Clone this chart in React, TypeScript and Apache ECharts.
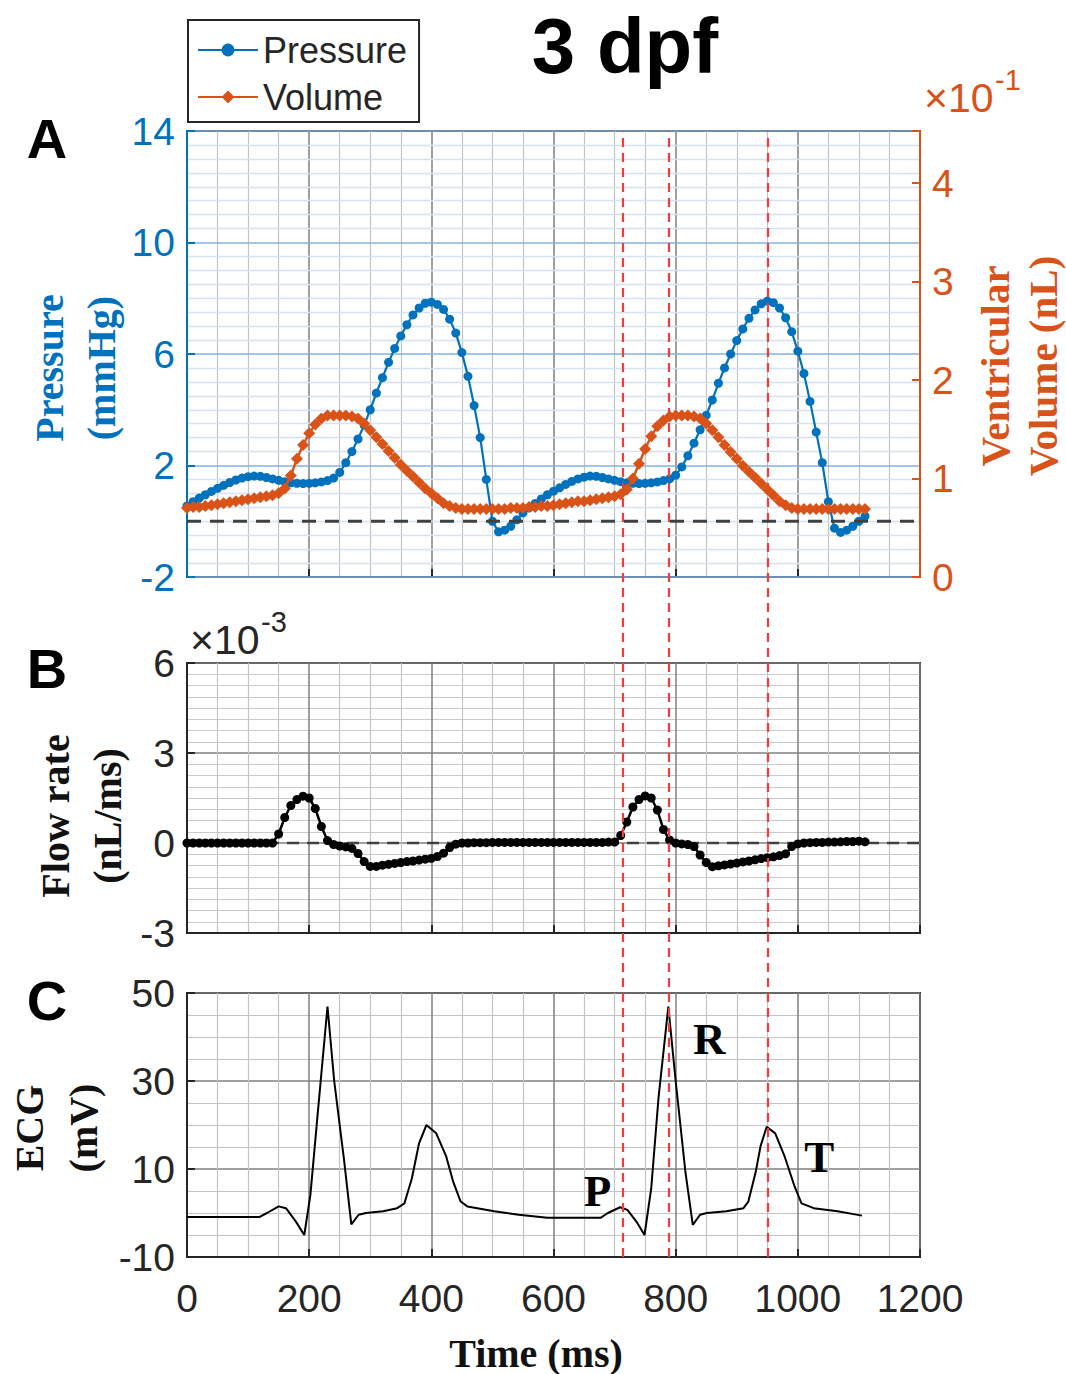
import React, { useEffect, useRef } from 'react';
import * as echarts from 'echarts';

// ---------- data ----------
// sampling grid of the pressure / volume / flow traces (ms)
const timeMs = Array.from({ length: 112 }, (_, i) => i * 10);

// ventricular pressure (mmHg)
const pressure = [
  0.55, 0.7, 0.83, 0.95, 1.07, 1.18, 1.29, 1.39, 1.48, 1.55,
  1.6, 1.62, 1.61, 1.57, 1.52, 1.47, 1.42, 1.38, 1.36, 1.35,
  1.36, 1.38, 1.41, 1.46, 1.55, 1.75, 2.1, 2.5, 2.95, 3.45,
  4.0, 4.6, 5.15, 5.7, 6.2, 6.65, 7.05, 7.4, 7.65, 7.82,
  7.86, 7.78, 7.6, 7.25, 6.75, 6.05, 5.2, 4.15, 3.0, 1.5,
  0.0, -0.38, -0.32, -0.18, 0.05, 0.3, 0.48, 0.64, 0.8, 0.95,
  1.08, 1.2, 1.32, 1.43, 1.52, 1.58, 1.62, 1.61, 1.57, 1.52,
  1.47, 1.42, 1.38, 1.36, 1.35, 1.36, 1.38, 1.41, 1.46, 1.52,
  1.65, 1.95, 2.35, 2.8, 3.28, 3.8, 4.35, 4.95, 5.5, 6.0,
  6.48, 6.9, 7.28, 7.58, 7.8, 7.9, 7.84, 7.65, 7.3, 6.8,
  6.1, 5.3, 4.3, 3.2, 2.1, 0.7, -0.25, -0.4, -0.32, -0.18,
  0.0, 0.18,
];

// ventricular volume (x10^-1 nL)
const volume = [
  0.7, 0.71, 0.71, 0.72, 0.73, 0.74, 0.75, 0.76, 0.77, 0.78,
  0.79, 0.8, 0.81, 0.82, 0.83, 0.85, 0.9, 1.03, 1.2, 1.34,
  1.46, 1.55, 1.61, 1.64, 1.64, 1.64, 1.64, 1.63, 1.61, 1.56,
  1.49, 1.42, 1.35, 1.28, 1.21, 1.14, 1.08, 1.02, 0.96, 0.9,
  0.85, 0.8, 0.75, 0.72, 0.7, 0.69, 0.69, 0.69, 0.69, 0.69,
  0.69, 0.69, 0.69, 0.7, 0.7, 0.7, 0.71, 0.71, 0.72, 0.72,
  0.73, 0.74, 0.75, 0.76, 0.77, 0.77, 0.78, 0.79, 0.8, 0.81,
  0.82, 0.84, 0.89, 1.0, 1.15, 1.3, 1.43, 1.53, 1.59, 1.63,
  1.64, 1.64, 1.64, 1.63, 1.61, 1.56, 1.49, 1.42, 1.34, 1.27,
  1.2, 1.13, 1.07, 1.01, 0.95, 0.89, 0.83, 0.77, 0.73, 0.7,
  0.69, 0.69, 0.69, 0.69, 0.69, 0.69, 0.69, 0.69, 0.69, 0.69,
  0.69, 0.69,
];

// flow rate (x10^-3 nL/ms)
const flowRate = [
  0, 0, 0, 0, 0, 0, 0, 0, 0, 0,
  0, 0, 0, 0, 0, 0.3, 0.85, 1.25, 1.45, 1.56,
  1.5, 1.15, 0.55, 0.08, -0.05, -0.1, -0.13, -0.18, -0.35, -0.62,
  -0.78, -0.78, -0.74, -0.71, -0.68, -0.65, -0.62, -0.6, -0.57, -0.54,
  -0.51, -0.45, -0.34, -0.15, -0.04, 0, 0, 0.01, 0.01, 0.01,
  0.02, 0.02, 0.02, 0.02, 0.02, 0.02, 0.02, 0.02, 0.02, 0.02,
  0.02, 0.02, 0.02, 0.02, 0.02, 0.02, 0.02, 0.02, 0.02, 0.03,
  0.03, 0.25, 0.7, 1.2, 1.45, 1.57, 1.5, 1.1, 0.45, 0.1,
  0, -0.03, -0.05, -0.12, -0.4, -0.65, -0.79, -0.76, -0.73, -0.7,
  -0.67, -0.63, -0.6, -0.56, -0.52, -0.49, -0.46, -0.42, -0.36, -0.12,
  -0.03, 0, 0.01, 0.02, 0.02, 0.03, 0.03, 0.04, 0.05, 0.05,
  0.06, 0.04,
];

// ECG (ms, mV)
const ecgTime = [
  0, 119, 131, 150, 162, 178, 192, 202, 214, 230, 241, 257, 269, 281, 293, 321,
  344, 356, 368, 380, 392, 408, 424, 436, 448, 459, 503, 543, 590, 677, 689, 709,
  721, 737, 749, 760, 772, 788, 800, 816, 828, 840, 851, 883, 911, 919, 931, 939,
  949, 963, 978, 994, 1006, 1026, 1065, 1105,
];
const ecgValue = [
  -0.9, -0.9, 0.0, 1.5, 1.1, -1.9, -5.0, 4.1, 22.6, 46.9, 30.0, 12.2, -2.6, -0.4, 0.0, 0.4,
  1.1, 2.2, 7.8, 15.9, 20.0, 18.1, 13.0, 7.0, 2.6, 1.5, 0.4, -0.4, -1.1, -1.1, 0.0, 1.3,
  0.7, -2.2, -5.0, 5.6, 26.3, 46.9, 30.0, 9.3, -2.7, -0.4, 0.0, 0.4, 1.1, 2.6, 9.3, 15.2,
  19.6, 18.1, 13.0, 6.3, 2.2, 1.1, 0.4, -0.6,
];

// ECG wave annotations
const waveLabels = ['P', 'R', 'T'];
const waveTime = [672, 855, 1035];
const waveValue = [4.9, 39.6, 12.7];

// event markers (ms)
const eventTimes = [714, 788, 950];

// axis ticks
const xTicks = { min: 0, max: 1200, step: 200 };
const pressureTicks = { min: -2, max: 14, step: 4 };
const volumeTicks = { min: 0, max: 4.53, step: 1 };
const flowTicks = { min: -3, max: 6, step: 3 };
const ecgTicks = { min: -10, max: 50, step: 20 };

// ---------- style ----------
const BLUE = '#0072BD';
const ORANGE = '#D95319';
const INK = '#262626';
const RED = '#f23b3b';
const SANS = '"Liberation Sans", Arial, Helvetica, sans-serif';
const SERIF = '"Liberation Serif", "Times New Roman", serif';
const GL = 187;
const GW = 733;

function xAxisFor(gridIndex: number, showLabels: boolean) {
  return {
    type: 'value',
    gridIndex,
    min: xTicks.min,
    max: xTicks.max,
    interval: xTicks.step,
    z: 3,
    axisLine: { show: true, onZero: false, lineStyle: { color: INK, width: 2 } },
    axisTick: { show: true, inside: true, length: 8, lineStyle: { color: INK, width: 2 } },
    axisLabel: {
      show: showLabels,
      margin: 22,
      fontSize: 39,
      color: INK,
      fontFamily: SANS,
      formatter: (v: number) => String(v),
    },
    splitLine: { show: true, lineStyle: { color: '#7f7f7f', width: 1.5 } },
    minorTick: { show: false, splitNumber: 4 },
    minorSplitLine: { show: true, lineStyle: { color: '#c4c4c4', width: 1.2 } },
  };
}

function txt(text: string, x: number, y: number, font: string, fill: string, extra: any = {}) {
  return {
    type: 'text',
    x,
    y,
    z: 20,
    silent: true,
    ...extra,
    style: {
      text,
      font,
      fill,
      align: extra.align || 'center',
      verticalAlign: 'middle',
      lineHeight: extra.lineHeight,
    },
  };
}

export default function App() {
  const ref = useRef<HTMLDivElement>(null);

  useEffect(() => {
    if (!ref.current) return;
    const chart = echarts.init(ref.current, null, { renderer: 'svg' });

    const pressureData = timeMs.map((t, i) => [t, pressure[i]]);
    const volumeData = timeMs.map((t, i) => [t, volume[i]]);
    const flowData = timeMs.map((t, i) => [t, flowRate[i]]);
    const ecgData = ecgTime.map((t, i) => [t, ecgValue[i]]);
    const waveData = waveLabels.map((l, i) => ({ name: l, value: [waveTime[i], waveValue[i]] }));

    const option: any = {
      animation: false,
      backgroundColor: '#ffffff',
      legend: {
        data: ['Pressure', 'Volume'],
        orient: 'vertical',
        left: 188,
        top: 20,
        itemWidth: 60,
        itemHeight: 16,
        itemGap: 7,
        padding: [10, 12, 5, 9],
        borderColor: INK,
        borderWidth: 2,
        backgroundColor: '#fff',
        textStyle: { fontSize: 36, color: INK, fontFamily: SANS, lineHeight: 40 },
      },
      grid: [
        { left: GL, top: 131, width: GW, height: 446, show: true, borderColor: INK, borderWidth: 2, backgroundColor: 'transparent' },
        { left: GL, top: 663, width: GW, height: 270, show: true, borderColor: INK, borderWidth: 2, backgroundColor: 'transparent' },
        { left: GL, top: 993, width: GW, height: 264, show: true, borderColor: INK, borderWidth: 2, backgroundColor: 'transparent' },
        { left: GL, top: 131, width: GW, height: 1126, show: false },
      ],
      xAxis: [
        xAxisFor(0, false),
        xAxisFor(1, false),
        xAxisFor(2, true),
        { type: 'value', gridIndex: 3, min: xTicks.min, max: xTicks.max, show: false },
      ],
      yAxis: [
        {
          type: 'value',
          gridIndex: 0,
          position: 'left',
          min: pressureTicks.min,
          max: pressureTicks.max,
          interval: pressureTicks.step,
          z: 4,
          axisLine: { show: true, onZero: false, lineStyle: { color: BLUE, width: 2 } },
          axisTick: { show: true, inside: true, length: 8, lineStyle: { color: BLUE, width: 2 } },
          axisLabel: { margin: 12, fontSize: 39, color: BLUE, fontFamily: SANS },
          splitLine: { show: true, lineStyle: { color: '#86b3de', width: 1.5 } },
          minorTick: { show: false, splitNumber: 8 },
          minorSplitLine: { show: true, lineStyle: { color: '#d3e3f3', width: 1.3 } },
        },
        {
          type: 'value',
          gridIndex: 0,
          position: 'right',
          min: volumeTicks.min,
          max: volumeTicks.max,
          interval: volumeTicks.step,
          z: 4,
          axisLine: { show: true, onZero: false, lineStyle: { color: ORANGE, width: 2 } },
          axisTick: { show: true, inside: true, length: 8, lineStyle: { color: ORANGE, width: 2 } },
          axisLabel: {
            margin: 12,
            fontSize: 39,
            color: ORANGE,
            fontFamily: SANS,
            formatter: (v: number) => (Math.abs(v - Math.round(v)) < 1e-6 ? String(Math.round(v)) : ''),
          },
          splitLine: { show: false },
        },
        {
          type: 'value',
          gridIndex: 1,
          min: flowTicks.min,
          max: flowTicks.max,
          interval: flowTicks.step,
          z: 3,
          axisLine: { show: true, onZero: false, lineStyle: { color: INK, width: 2 } },
          axisTick: { show: true, inside: true, length: 8, lineStyle: { color: INK, width: 2 } },
          axisLabel: { margin: 12, fontSize: 39, color: INK, fontFamily: SANS },
          splitLine: { show: true, lineStyle: { color: '#7f7f7f', width: 1.5 } },
          minorTick: { show: false, splitNumber: 8 },
          minorSplitLine: { show: true, lineStyle: { color: '#cacaca', width: 1.2 } },
        },
        {
          type: 'value',
          gridIndex: 2,
          min: ecgTicks.min,
          max: ecgTicks.max,
          interval: ecgTicks.step,
          z: 3,
          axisLine: { show: true, onZero: false, lineStyle: { color: INK, width: 2 } },
          axisTick: { show: true, inside: true, length: 8, lineStyle: { color: INK, width: 2 } },
          axisLabel: { margin: 12, fontSize: 39, color: INK, fontFamily: SANS },
          splitLine: { show: true, lineStyle: { color: '#7f7f7f', width: 1.5 } },
          minorTick: { show: false, splitNumber: 4 },
          minorSplitLine: { show: true, lineStyle: { color: '#c4c4c4', width: 1.2 } },
        },
        { type: 'value', gridIndex: 3, min: 0, max: 1, show: false },
      ],
      series: [
        {
          name: 'Pressure',
          type: 'line',
          xAxisIndex: 0,
          yAxisIndex: 0,
          data: pressureData,
          symbol: 'circle',
          symbolSize: 9,
          lineStyle: { color: BLUE, width: 2.2 },
          itemStyle: { color: BLUE },
          z: 4,
        },
        {
          name: 'Volume',
          type: 'line',
          xAxisIndex: 0,
          yAxisIndex: 1,
          data: volumeData,
          symbol: 'diamond',
          symbolSize: 12,
          lineStyle: { color: ORANGE, width: 2.5 },
          itemStyle: { color: ORANGE },
          z: 5,
        },
        {
          name: 'zeroA',
          type: 'line',
          xAxisIndex: 0,
          yAxisIndex: 0,
          data: [[0, 0], [1240, 0]],
          clip: false,
          symbol: 'none',
          silent: true,
          lineStyle: { color: '#404040', width: 3, type: [14, 9] },
          z: 6,
        },
        {
          name: 'Flow',
          type: 'line',
          xAxisIndex: 1,
          yAxisIndex: 2,
          data: flowData,
          symbol: 'circle',
          symbolSize: 9,
          lineStyle: { color: '#000', width: 2.5 },
          itemStyle: { color: '#000' },
          z: 4,
        },
        {
          name: 'zeroB',
          type: 'line',
          xAxisIndex: 1,
          yAxisIndex: 2,
          data: [[0, 0], [1240, 0]],
          clip: false,
          symbol: 'none',
          silent: true,
          lineStyle: { color: '#404040', width: 2.5, type: [12, 8] },
          z: 3,
        },
        {
          name: 'ECG',
          type: 'line',
          xAxisIndex: 2,
          yAxisIndex: 3,
          data: ecgData,
          symbol: 'none',
          lineStyle: { color: '#000', width: 2 },
          z: 4,
        },
        {
          name: 'waves',
          type: 'scatter',
          xAxisIndex: 2,
          yAxisIndex: 3,
          data: waveData,
          symbolSize: 0,
          itemStyle: { color: '#000', opacity: 1 },
          label: {
            show: true,
            position: 'inside',
            formatter: '{b}',
            fontSize: 45,
            fontWeight: 'bold',
            fontFamily: SERIF,
            color: '#000',
            opacity: 1,
            textBorderWidth: 0,
          },
          z: 8,
        },
        {
          name: 'events',
          type: 'line',
          xAxisIndex: 3,
          yAxisIndex: 4,
          data: [[0, -5]],
          symbol: 'none',
          silent: true,
          z: 10,
          markLine: {
            silent: true,
            symbol: 'none',
            label: { show: false },
            lineStyle: { color: RED, width: 2.2, type: [9, 6] },
            data: eventTimes.map((t) => ({ xAxis: t })),
          },
        },
      ],
      graphic: [
        txt('3 dpf', 625, 46, `bold 78px ${SANS}`, '#000'),
        txt('A', 47, 138, `bold 56px ${SANS}`, '#000'),
        txt('B', 47, 668, `bold 56px ${SANS}`, '#000'),
        txt('C', 47, 1000, `bold 56px ${SANS}`, '#000'),
        txt('\u00d710', 924, 98, `41px ${SANS}`, ORANGE, { align: 'left' }),
        txt('-1', 995, 80, `29px ${SANS}`, ORANGE, { align: 'left' }),
        txt('\u00d710', 190, 640, `41px ${SANS}`, INK, { align: 'left' }),
        txt('-3', 261, 622, `29px ${SANS}`, INK, { align: 'left' }),
        txt('Pressure\n(mmHg)', 75, 368, `bold 40px ${SERIF}`, BLUE, { rotation: Math.PI / 2, lineHeight: 52 }),
        txt('Ventricular\nVolume (nL)', 1019, 366, `bold 41px ${SERIF}`, ORANGE, { rotation: Math.PI / 2, lineHeight: 48 }),
        txt('Flow rate\n(nL/ms)', 81, 816, `bold 40px ${SERIF}`, '#111', { rotation: Math.PI / 2, lineHeight: 52 }),
        txt('ECG\n(mV)', 56, 1128, `bold 40px ${SERIF}`, '#111', { rotation: Math.PI / 2, lineHeight: 54 }),
        txt('Time (ms)', 536, 1353, `bold 40px ${SERIF}`, '#111'),
      ],
    };

    chart.setOption(option);
    return () => chart.dispose();
  }, []);

  return (
    <div
      ref={ref}
      style={{ position: 'absolute', left: 0, top: 0, width: 1066, height: 1374, background: '#fff' }}
    />
  );
}
